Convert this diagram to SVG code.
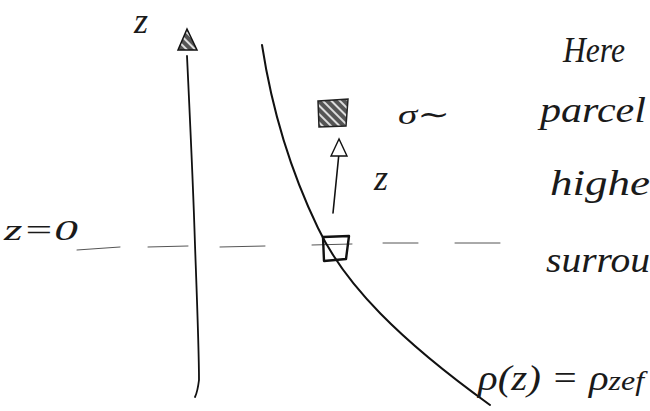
<svg xmlns="http://www.w3.org/2000/svg" width="650" height="411" viewBox="0 0 650 411">
<defs>
<pattern id="hatch" width="6" height="6" patternUnits="userSpaceOnUse" patternTransform="rotate(-45)">
<rect width="6" height="6" fill="#555"/>
<rect width="2" height="6" fill="#ddd"/>
</pattern>
<style>
.ink{fill:none;stroke:#111;stroke-linecap:round;stroke-linejoin:round}
.hand{font-family:"Liberation Serif","DejaVu Serif",serif;font-style:italic;fill:#1a1a1a}
.dash{fill:none;stroke:#555;stroke-width:1;stroke-linecap:round}
</style>
</defs>
<rect width="650" height="411" fill="#fff"/>
<g id="axis">
<path class="ink" stroke-width="1.8" d="M187,56 C190,120 193,180 195,245 C197,300 199,350 199,380 C198,388 197,393 195,397"/>
<path d="M187,29 L178,50 L197,50 Z" fill="url(#hatch)" stroke="#111" stroke-width="1.5"/>
<text class="hand" x="134" y="33" font-size="36">z</text>
</g>
<g id="zero-level">
<path class="dash" d="M77,250 L120,247 M148,247 L188,246 M220,247 L265,246 M312,245 L352,244 M383,243 L418,243 M455,243 L500,243"/>
<text class="hand" x="4" y="240" font-size="30" textLength="74" lengthAdjust="spacingAndGlyphs">z=0</text>
</g>
<g id="profile">
<path class="ink" stroke-width="2" d="M262,45 C272,110 290,170 318,228 C345,285 400,340 490,405"/>
<text class="hand" x="478" y="390" font-size="36" textLength="166" lengthAdjust="spacingAndGlyphs">ρ(z) = ρ<tspan font-size="28">zef</tspan></text>
</g>
<g id="start-box">
<path class="ink" stroke-width="2.4" d="M323,237 L349,236 L346,259 L324,261 Z"/>
</g>
<g id="parcel">
<path d="M318,101 L348,99 L346,126 L319,127 Z" fill="url(#hatch)" stroke="#222" stroke-width="1.5"/>
<text class="hand" x="398" y="124" font-size="28" textLength="52" lengthAdjust="spacingAndGlyphs">σ∼</text>
</g>
<g id="displacement">
<path class="ink" stroke-width="1.6" d="M333,213 L339,153"/>
<path d="M339,139 L331,156 L347,156 Z" fill="#fff" stroke="#111" stroke-width="1.4"/>
<text class="hand" x="374" y="190" font-size="36">z</text>
</g>
<g id="notes">
<text class="hand" x="563" y="62" font-size="36" textLength="62" lengthAdjust="spacingAndGlyphs">Here</text>
<text class="hand" x="540" y="122" font-size="36" textLength="106" lengthAdjust="spacingAndGlyphs">parcel</text>
<text class="hand" x="550" y="195" font-size="36" textLength="100" lengthAdjust="spacingAndGlyphs">highe</text>
<text class="hand" x="546" y="272" font-size="36" textLength="104" lengthAdjust="spacingAndGlyphs">surrou</text>
</g>
</svg>
